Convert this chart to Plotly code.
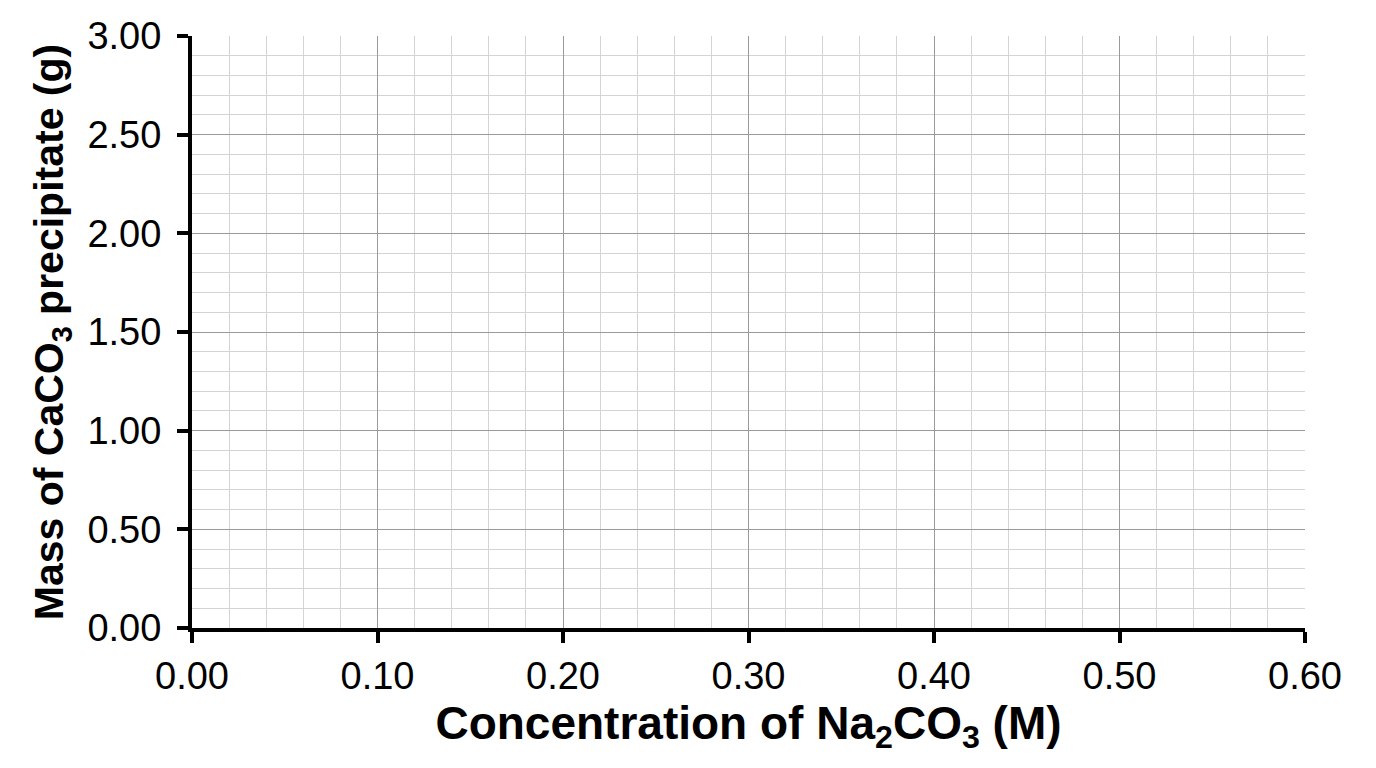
import plotly.graph_objects as go

# axis setup
x_range = [0.0, 0.60]
y_range = [0.0, 3.00]
x_major = [0.00, 0.10, 0.20, 0.30, 0.40, 0.50, 0.60]
y_major = [0.00, 0.50, 1.00, 1.50, 2.00, 2.50, 3.00]
x_minor_step = 0.02
y_minor_step = 0.10

x_title = "Concentration of Na<sub>2</sub>CO<sub>3</sub> (M)"
y_title = "Mass of CaCO<sub>3</sub> precipitate (g)"

fig = go.Figure()
# empty trace so the axes get drawn
fig.add_trace(go.Scatter(x=[None], y=[None], mode="markers", showlegend=False, hoverinfo="skip"))

axis_font = dict(family="Liberation Sans, Arial", size=38, color="black")
xtitle_font = dict(family="Liberation Sans, Arial", size=46, color="black", weight="bold")
ytitle_font = dict(family="Liberation Sans, Arial", size=41, color="black", weight="bold")

fig.update_xaxes(
    range=x_range, tickvals=x_major, ticktext=[f"{v:.2f}" for v in x_major],
    showline=True, linecolor="black", linewidth=4,
    ticks="outside", ticklen=11, tickwidth=4, tickcolor="black",
    showgrid=True, gridcolor="#9a9a9a", gridwidth=1,
    minor=dict(dtick=x_minor_step, tick0=0, showgrid=True, gridcolor="#d4d4d4", gridwidth=1, ticks=""),
    tickfont=axis_font, zeroline=False, automargin=False,
    title=dict(text=x_title, font=xtitle_font, standoff=12),
)
fig.update_yaxes(
    range=y_range, tickvals=y_major, ticktext=[f"{v:.2f}" for v in y_major],
    showline=True, linecolor="black", linewidth=4,
    ticks="outside", ticklen=11, tickwidth=4, tickcolor="black",
    showgrid=True, gridcolor="#9a9a9a", gridwidth=1,
    minor=dict(dtick=y_minor_step, tick0=0, showgrid=True, gridcolor="#d4d4d4", gridwidth=1, ticks=""),
    tickfont=axis_font, zeroline=False, ticklabelstandoff=8, automargin=False,
    title=dict(text=y_title, font=ytitle_font, standoff=12),
)
# page body adds 8px on each side, so size it to fit the window
fig.update_layout(
    width=1360, height=752,
    margin=dict(l=184, r=63, t=28, b=132),
    plot_bgcolor="white", paper_bgcolor="white",
    showlegend=False,
)
fig.write_html("out.html")
